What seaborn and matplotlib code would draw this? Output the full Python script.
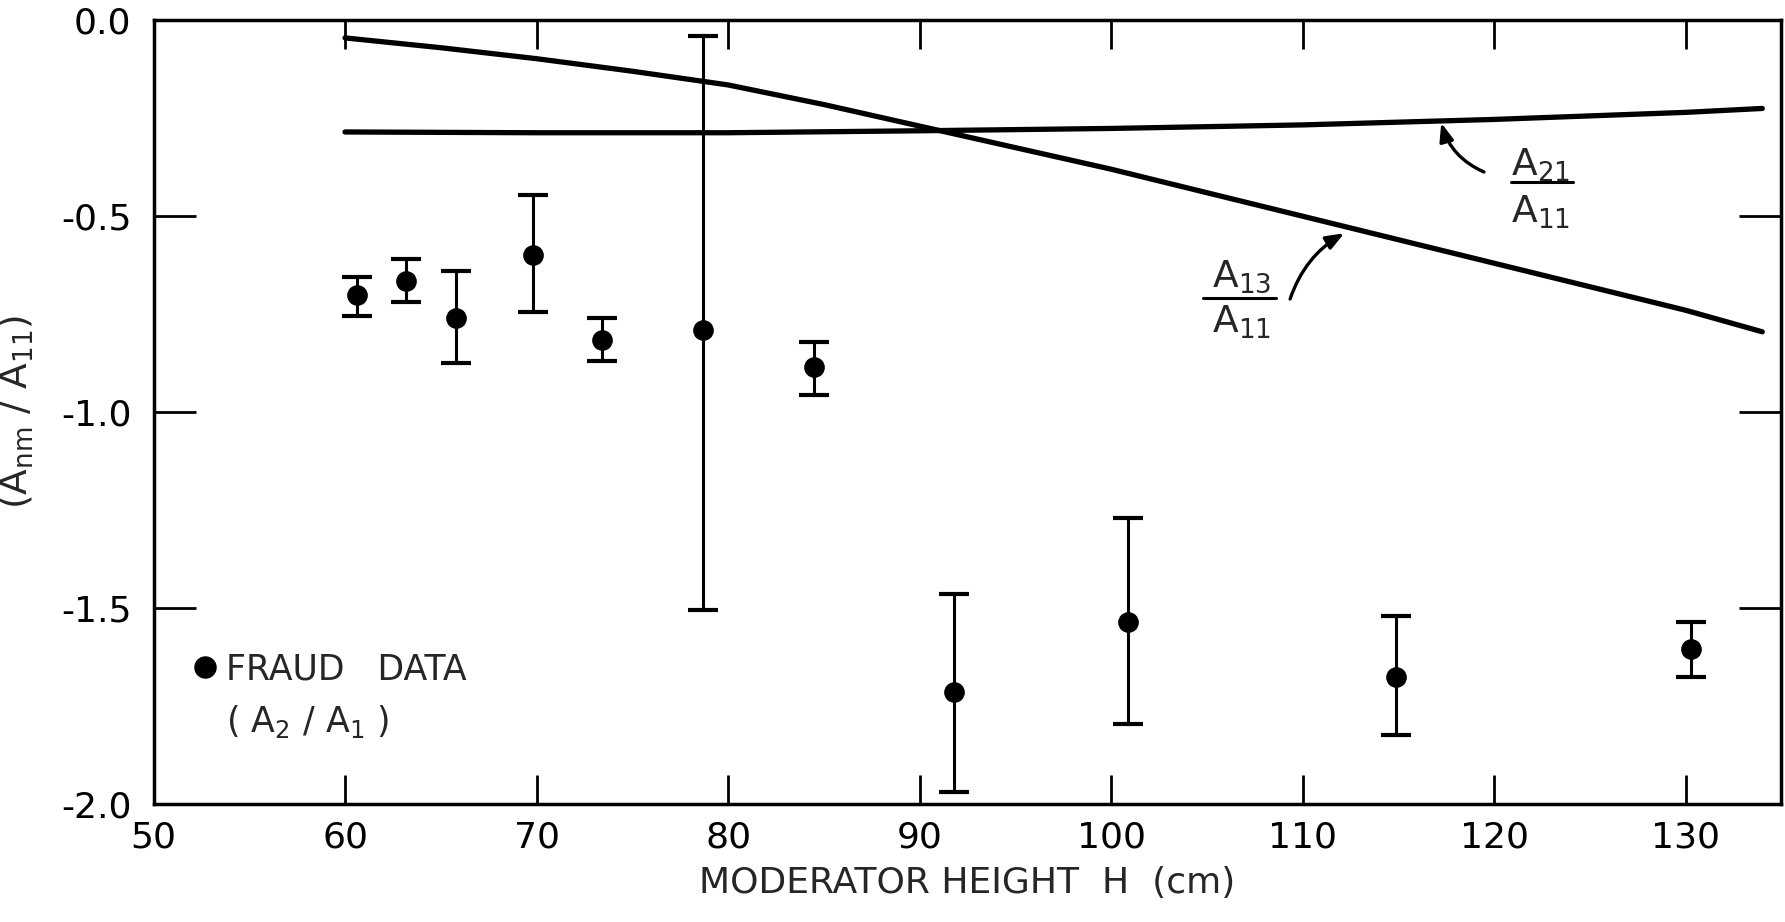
import numpy as np
import pandas as pd
import matplotlib
matplotlib.use("Agg")
import matplotlib.pyplot as plt
import seaborn as sns

# ---- data ----
fraud_h = [60.6, 63.2, 65.8, 69.8, 73.4, 78.7, 84.5, 91.8, 100.9, 114.9, 130.3]
fraud_val = [-0.70, -0.665, -0.76, -0.60, -0.815, -0.79, -0.885, -1.715, -1.535, -1.675, -1.605]
fraud_lo = [-0.755, -0.72, -0.875, -0.745, -0.87, -1.505, -0.955, -1.97, -1.795, -1.825, -1.675]
fraud_hi = [-0.655, -0.61, -0.64, -0.445, -0.76, -0.04, -0.82, -1.465, -1.27, -1.52, -1.535]

a13_h = [60, 65, 70, 75, 80, 85, 90, 95, 100, 105, 110, 115, 120, 125, 130, 134]
a13_val = [-0.045, -0.07, -0.098, -0.13, -0.165, -0.215, -0.27, -0.325, -0.38, -0.44, -0.50, -0.56, -0.62, -0.68, -0.74, -0.795]

a21_h = [60, 70, 80, 90, 100, 110, 120, 130, 134]
a21_val = [-0.285, -0.287, -0.287, -0.282, -0.276, -0.267, -0.253, -0.235, -0.225]

x_ticks = [50, 60, 70, 80, 90, 100, 110, 120, 130]
y_ticks = [0.0, -0.5, -1.0, -1.5, -2.0]
y_ticklabels = ["0.0", "-0.5", "-1.0", "-1.5", "-2.0"]

sns.set_theme(style="ticks")
plt.rcParams['font.family'] = ['DejaVu Sans']
plt.rcParams['mathtext.default'] = 'regular'

fig = plt.figure(figsize=(17.85, 9.22), dpi=100)
ax = fig.add_axes([0.086, 0.128, 0.912, 0.850])

curves = pd.concat([
    pd.DataFrame({"H": a13_h, "val": a13_val, "curve": "A13/A11"}),
    pd.DataFrame({"H": a21_h, "val": a21_val, "curve": "A21/A11"}),
])
sns.lineplot(data=curves, x="H", y="val", units="curve", estimator=None,
             color="black", linewidth=3.8, ax=ax, legend=False)

fh = np.array(fraud_h)
fv = np.array(fraud_val)
yerr = np.vstack([fv - np.array(fraud_lo), np.array(fraud_hi) - fv])
ax.errorbar(fh, fv, yerr=yerr, fmt="none", ecolor="black", elinewidth=2.2,
            capsize=11, capthick=3)
sns.scatterplot(x=fh, y=fv, color="black", s=190, edgecolor="black",
                marker="o", ax=ax, legend=False, zorder=5)

ax.set_xlim(50, 135)
ax.set_ylim(-2.0, 0.0)
ax.set_xticks(x_ticks)
ax.set_xticklabels([str(t) for t in x_ticks])
ax.set_yticks(y_ticks)
ax.set_yticklabels(y_ticklabels)

ax.tick_params(axis="x", direction="in", length=21, width=2, labelsize=26,
               top=True, pad=12, colors="black")
ax.tick_params(axis="y", direction="in", length=30, width=2, labelsize=26,
               right=True, pad=16, colors="black")
for s in ax.spines.values():
    s.set_linewidth(2.5)
    s.set_color("black")

ax.set_xlabel("MODERATOR HEIGHT  H  (cm)", fontsize=26, labelpad=8)
ax.set_ylabel("(A$_{nm}$ / A$_{11}$)", fontsize=27, labelpad=18)

# legend-like annotation
ax.scatter([52.7], [-1.651], s=230, color="black", zorder=5)
ax.text(53.8, -1.657, "FRAUD   DATA", fontsize=25, va="center", ha="left")
ax.text(53.8, -1.79, "( A$_2$ / A$_1$ )", fontsize=25, va="center", ha="left")

# fraction labels
ax.text(122.4, -0.37, "A$_{21}$", fontsize=27, ha="center", va="center")
ax.plot([120.9, 124.1], [-0.413, -0.413], color="black", lw=2.2)
ax.text(122.4, -0.49, "A$_{11}$", fontsize=27, ha="center", va="center")
ax.annotate("", xy=(117.2, -0.255), xytext=(119.6, -0.39),
            arrowprops=dict(arrowstyle="-|>,head_length=0.9,head_width=0.35",
                            color="black", lw=2.4,
                            connectionstyle="arc3,rad=-0.25"))

ax.text(106.8, -0.655, "A$_{13}$", fontsize=27, ha="center", va="center")
ax.plot([104.8, 108.6], [-0.709, -0.709], color="black", lw=2.2)
ax.text(106.8, -0.77, "A$_{11}$", fontsize=27, ha="center", va="center")
ax.annotate("", xy=(112.3, -0.54), xytext=(109.3, -0.718),
            arrowprops=dict(arrowstyle="-|>,head_length=0.9,head_width=0.35",
                            color="black", lw=2.4,
                            connectionstyle="arc3,rad=-0.2"))

fig.savefig("out.png", dpi=100, facecolor="white")
